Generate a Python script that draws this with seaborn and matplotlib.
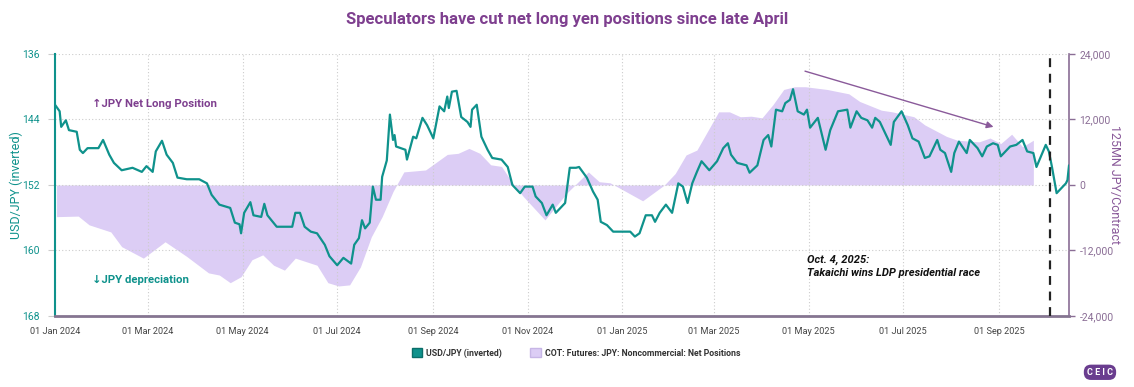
import pandas as pd
import seaborn as sns
import matplotlib.pyplot as plt
import matplotlib.dates as mdates
from matplotlib.patches import Patch

# USD/JPY (inverted axis)
fx_dates = [
    '2024-01-01', '2024-01-04', '2024-01-05', '2024-01-08', '2024-01-10', '2024-01-15', '2024-01-17',
    '2024-01-19', '2024-01-22', '2024-01-29', '2024-02-01', '2024-02-05', '2024-02-08', '2024-02-13',
    '2024-02-20', '2024-02-26', '2024-02-29', '2024-03-04', '2024-03-06', '2024-03-10', '2024-03-13',
    '2024-03-17', '2024-03-20', '2024-03-26', '2024-04-03', '2024-04-08', '2024-04-11', '2024-04-16',
    '2024-04-23', '2024-04-26', '2024-04-29', '2024-04-30', '2024-05-02', '2024-05-06', '2024-05-08',
    '2024-05-13', '2024-05-15', '2024-05-17', '2024-05-23', '2024-05-29', '2024-06-02', '2024-06-04',
    '2024-06-07', '2024-06-10', '2024-06-14', '2024-06-18', '2024-06-23', '2024-06-26', '2024-07-01',
    '2024-07-05', '2024-07-10', '2024-07-12', '2024-07-15', '2024-07-17', '2024-07-19', '2024-07-22',
    '2024-07-24', '2024-07-26', '2024-07-29', '2024-07-30', '2024-08-02', '2024-08-04', '2024-08-06',
    '2024-08-07', '2024-08-08', '2024-08-14', '2024-08-15', '2024-08-19', '2024-08-21', '2024-08-25',
    '2024-08-28', '2024-09-01', '2024-09-05', '2024-09-08', '2024-09-10', '2024-09-11', '2024-09-13',
    '2024-09-16', '2024-09-19', '2024-09-23', '2024-09-25', '2024-09-26', '2024-09-29', '2024-10-02',
    '2024-10-06', '2024-10-09', '2024-10-15', '2024-10-19', '2024-10-22', '2024-10-27', '2024-10-30',
    '2024-11-04', '2024-11-06', '2024-11-10', '2024-11-13', '2024-11-17', '2024-11-19', '2024-11-25',
    '2024-11-28', '2024-12-02', '2024-12-04', '2024-12-09', '2024-12-13', '2024-12-16', '2024-12-18',
    '2024-12-22', '2024-12-26', '2025-01-06', '2025-01-09', '2025-01-12', '2025-01-16', '2025-01-20',
    '2025-01-22', '2025-01-25', '2025-01-29', '2025-02-02', '2025-02-06', '2025-02-09', '2025-02-12',
    '2025-02-15', '2025-02-18', '2025-02-21', '2025-02-26', '2025-03-03', '2025-03-07', '2025-03-10',
    '2025-03-12', '2025-03-16', '2025-03-22', '2025-03-24', '2025-03-29', '2025-04-02', '2025-04-05',
    '2025-04-07', '2025-04-10', '2025-04-14', '2025-04-16', '2025-04-19', '2025-04-21', '2025-04-24',
    '2025-04-28', '2025-04-30', '2025-05-02', '2025-05-07', '2025-05-12', '2025-05-15', '2025-05-20',
    '2025-05-26', '2025-05-28', '2025-06-01', '2025-06-04', '2025-06-08', '2025-06-11', '2025-06-13',
    '2025-06-16', '2025-06-23', '2025-06-25', '2025-06-30', '2025-07-04', '2025-07-07', '2025-07-11',
    '2025-07-15', '2025-07-18', '2025-07-23', '2025-07-25', '2025-07-28', '2025-08-01', '2025-08-03',
    '2025-08-06', '2025-08-11', '2025-08-13', '2025-08-18', '2025-08-21', '2025-08-24', '2025-08-28',
    '2025-08-31', '2025-09-02', '2025-09-08', '2025-09-12', '2025-09-16', '2025-09-19', '2025-09-23',
    '2025-09-25', '2025-10-01', '2025-10-03', '2025-10-05', '2025-10-08', '2025-10-14', '2025-10-15',
    '2025-10-16',
]
fx_values = [
    142.2, 143.0, 144.9, 144.1, 145.3, 145.5, 147.7,
    148.1, 147.5, 147.5, 146.5, 148.3, 149.3, 150.2,
    149.9, 150.4, 149.7, 150.4, 147.9, 146.6, 148.3,
    149.3, 151.1, 151.3, 151.3, 151.8, 153.2, 154.4,
    154.8, 156.6, 156.8, 157.9, 155.4, 154.1, 155.7,
    155.9, 154.3, 155.7, 157.1, 157.1, 157.1, 155.4,
    155.4, 157.1, 157.7, 157.9, 159.3, 160.7, 161.8,
    160.9, 161.6, 159.3, 158.5, 156.3, 157.3, 156.6,
    152.2, 153.8, 153.8, 151.0, 149.0, 143.4, 146.5,
    145.9, 147.3, 147.7, 148.9, 146.1, 146.3, 143.8,
    144.7, 146.3, 142.4, 143.0, 141.2, 142.6, 140.6,
    140.5, 143.7, 144.3, 144.9, 142.8, 142.2, 146.1,
    147.7, 148.7, 148.9, 149.8, 152.0, 153.0, 152.2,
    152.2, 153.4, 154.2, 155.7, 154.4, 155.4, 154.2,
    149.9, 149.9, 149.8, 151.1, 152.8, 153.8, 156.5,
    156.9, 157.7, 157.7, 158.3, 157.9, 155.7, 155.7,
    156.5, 155.4, 154.4, 155.4, 151.8, 152.2, 154.2,
    151.8, 150.4, 149.1, 150.2, 149.1, 147.5, 146.9,
    148.3, 149.3, 149.6, 150.5, 149.6, 146.5, 145.9,
    147.3, 142.8, 143.0, 142.0, 141.6, 140.3, 143.0,
    143.4, 142.8, 145.0, 143.8, 147.7, 145.3, 143.0,
    142.8, 145.0, 143.0, 143.8, 144.1, 145.0, 143.8,
    144.3, 147.1, 144.3, 143.0, 144.7, 146.3, 146.7,
    148.7, 148.5, 146.5, 147.7, 148.1, 150.4, 148.1,
    146.7, 148.1, 146.5, 147.5, 148.5, 147.3, 146.9,
    147.1, 148.5, 147.3, 147.1, 146.5, 147.9, 148.1,
    149.8, 147.1, 147.9, 149.8, 153.0, 151.8, 151.4,
    149.6,
]

# COT: Futures: JPY: Noncommercial: Net Positions (weekly)
cot_dates = [
    '2024-01-02', '2024-01-16', '2024-01-23', '2024-02-06', '2024-02-13', '2024-02-27', '2024-03-12',
    '2024-03-26', '2024-04-09', '2024-04-16', '2024-04-23', '2024-04-30', '2024-05-07', '2024-05-14',
    '2024-05-21', '2024-05-28', '2024-06-04', '2024-06-18', '2024-06-25', '2024-07-02', '2024-07-09',
    '2024-07-16', '2024-07-23', '2024-07-30', '2024-08-06', '2024-08-13', '2024-08-27', '2024-09-10',
    '2024-09-17', '2024-09-24', '2024-10-01', '2024-10-08', '2024-10-15', '2024-10-22', '2024-10-29',
    '2024-11-12', '2024-11-26', '2024-12-10', '2024-12-17', '2024-12-24', '2025-01-14', '2025-01-28',
    '2025-02-04', '2025-02-11', '2025-02-18', '2025-03-04', '2025-03-11', '2025-03-18', '2025-03-25',
    '2025-04-01', '2025-04-08', '2025-04-15', '2025-04-22', '2025-04-29', '2025-05-13', '2025-05-27',
    '2025-06-03', '2025-06-17', '2025-06-24', '2025-07-08', '2025-07-15', '2025-07-29', '2025-08-05',
    '2025-08-19', '2025-08-26', '2025-09-02', '2025-09-09', '2025-09-16', '2025-09-23',
]
cot_values = [
    -5800, -5700, -7300, -8600, -11300, -13400, -10400,
    -13100, -16100, -16500, -17900, -16800, -13700, -12800,
    -14700, -15600, -13400, -14700, -17900, -18500, -18300,
    -15000, -9500, -5800, -1200, 2400, 2750, 5600,
    5800, 6700, 5800, 3700, 3400, 400, -2100,
    -6400, -1500, 2400, 600, 400, -2900, 0,
    2100, 5500, 6400, 13400, 13400, 12500, 12600,
    12300, 14700, 17500, 18000, 18000, 17500, 16700,
    15300, 13700, 13400, 12500, 11000, 8900, 8200,
    7900, 8600, 7600, 9300, 7000, 8200,
]

event_date = '2025-10-04'
x_ticks = ['2024-01-01', '2024-03-01', '2024-05-01', '2024-07-01', '2024-09-01', '2024-11-01',
           '2025-01-01', '2025-03-01', '2025-05-01', '2025-07-01', '2025-09-01']
left_ticks = [136, 144, 152, 160, 168]
right_ticks = [-24000, -12000, 0, 12000, 24000]

teal = '#0f928c'
purple = '#7e3f8f'
lavender = '#dccdf5'

fx = pd.DataFrame({'date': pd.to_datetime(fx_dates), 'value': fx_values})
cot = pd.DataFrame({'date': pd.to_datetime(cot_dates), 'value': cot_values})

sns.set_style('white')
plt.rcParams['font.family'] = ['Roboto', 'DejaVu Sans']

fig = plt.figure(figsize=(11.34, 3.87), dpi=100)
ax = fig.add_axes([0.0485, 0.1835, 0.8942, 0.677])
ax2 = ax.twinx()

ax2.fill_between(cot['date'], 0, cot['value'], color=lavender, lw=0, zorder=1)
ax2.set_ylim(-24000, 24000)
ax2.set_yticks(right_ticks)
ax2.set_yticklabels([f'{v:,}' for v in right_ticks], fontsize=7.5, color='#8a6d95')
ax2.set_ylabel('125MN JPY/Contract', rotation=270, fontsize=9, color='#8a5a9a', va='center')
ax2.yaxis.set_label_coords(1.045, 0.5)

ax.set_zorder(ax2.get_zorder() + 1)
ax.patch.set_visible(False)
sns.lineplot(data=fx, x='date', y='value', ax=ax, color=teal, lw=1.6, zorder=3)
ax.set_ylim(168, 136)
ax.set_yticks(left_ticks)
ax.set_yticklabels([str(v) for v in left_ticks], fontsize=7.5, color=teal)
ax.set_ylabel('USD/JPY (inverted)', fontsize=9, color=teal, va='center')
ax.yaxis.set_label_coords(-0.038, 0.5)
ax.set_xlabel('')
ax.set_xlim(pd.Timestamp('2024-01-01'), pd.Timestamp('2025-10-16'))
ax.set_xticks(pd.to_datetime(x_ticks))
ax.xaxis.set_major_formatter(mdates.DateFormatter('%d %b %Y'))
ax.tick_params(axis='x', labelsize=6.6, colors='#444444', length=0, pad=8)
ax.tick_params(axis='y', length=5, color='#cccccc', width=0.8, pad=6)
ax2.tick_params(axis='y', length=4, color='#8a6d95', width=1)

ax.grid(True, linestyle=(0, (1, 2)), color='#cccccc', lw=0.8)
for s in ['top']:
    ax.spines[s].set_visible(False)
    ax2.spines[s].set_visible(False)
ax.spines['left'].set_color(teal)
ax.spines['left'].set_linewidth(1.5)
ax2.spines['left'].set_visible(False)
ax.spines['right'].set_visible(False)
ax2.spines['right'].set_color('#8a6d95')
ax2.spines['right'].set_linewidth(1.2)
ax.spines['bottom'].set_color('#857591')
ax.spines['bottom'].set_linewidth(2)
ax2.spines['bottom'].set_visible(False)

ax.axvline(pd.Timestamp(event_date), color='#222222', ls=(0, (4, 3)), lw=1.6, zorder=4)

ax.text(pd.Timestamp('2024-01-25'), 142.1, '↑JPY Net Long Position', color=purple, fontsize=8.2,
        fontweight='bold', va='center')
ax.text(pd.Timestamp('2024-01-25'), 163.6, '↓JPY depreciation', color=teal, fontsize=8.2,
        fontweight='bold', va='center')
ax.text(pd.Timestamp('2025-04-30'), 160.5, 'Oct. 4, 2025:\nTakaichi wins LDP presidential race',
        fontsize=8, fontweight='bold', style='italic', color='#111111', va='top', linespacing=1.35)
ax.annotate('', xy=(pd.Timestamp('2025-08-30'), 145.0), xytext=(pd.Timestamp('2025-04-27'), 138.0),
            arrowprops=dict(arrowstyle='-|>', color='#8a5a9a', lw=1, mutation_scale=10))

fig.suptitle('Speculators have cut net long yen positions since late April', x=0.5, y=0.97,
             fontsize=12, fontweight='bold', color=purple)

handles = [Patch(facecolor=teal, edgecolor='#0b6e69', label='USD/JPY (inverted)'),
           Patch(facecolor=lavender, edgecolor='#c7b6e6', label='COT: Futures: JPY: Noncommercial: Net Positions')]
leg = fig.legend(handles=handles, loc='center', bbox_to_anchor=(0.508, 0.088), ncol=2, frameon=False,
                 fontsize=6.3, handlelength=1.2, handleheight=1.2, columnspacing=3.2, handletextpad=0.5)
for t in leg.get_texts():
    t.set_fontweight('bold')
    t.set_color('#333333')

fig.text(0.97, 0.038, 'C E I C', fontsize=6.5, fontweight='bold', color='white', ha='center', va='center',
         bbox=dict(boxstyle='round,pad=0.35,rounding_size=0.8', fc='#6a3d8f', ec='none'))

fig.savefig('out.png', dpi=100)
